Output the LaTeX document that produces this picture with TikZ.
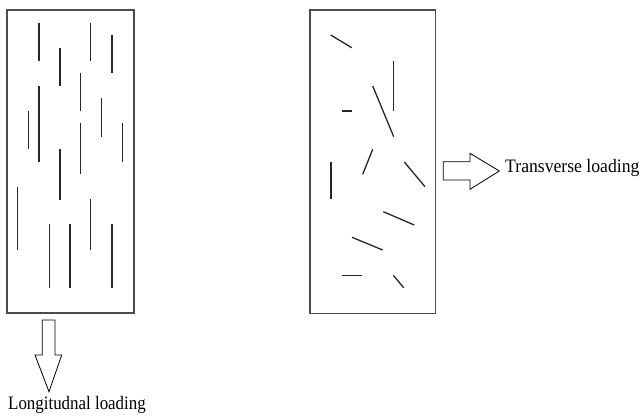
\documentclass[tikz,border=0pt]{standalone}
\usepackage{fontspec}
\setmainfont{Liberation Serif}
\begin{document}
\begin{tikzpicture}[x=1pt,y=-1pt,
  panel/.style={draw=black!70,line width=1.3pt},
  fiber/.style={draw=black!85,line width=1.3pt},
  loadarrow/.style={draw=black,line width=0.8pt,fill=white,line join=miter},
  lbl/.style={font=\fontsize{19}{22}\selectfont,inner sep=0pt,anchor=base west}]
\useasboundingbox (0,0) rectangle (642,415);
% left panel
\draw[panel] (7,10) rectangle (134,313);
\foreach \x/\a/\b in {39/22.7/60.7, 90.7/22.7/60.7, 112/35/73.3, 60/48.3/86,
  80.3/73.3/111, 39/85.7/162.3, 101.7/98.3/136.7, 28.3/111/149, 122.3/123.3/162.3,
  80.3/123.3/174.3, 60/149/200, 17.7/186.7/250, 90.7/199.3/250,
  49.3/224.3/287.7, 70/224.3/287.7, 112/224.3/287.7}
  \draw[fiber] (\x,\a) -- (\x,\b);
% right panel
\draw[panel] (310,10) rectangle (435.3,313.3);
\draw[fiber] (330.7,35) -- (351.7,47.7);
\draw[fiber] (393.3,60.7) -- (393.3,111);
\draw[fiber] (372.7,86) -- (393.7,136.7);
\draw[fiber] (341.7,111) -- (351.7,111);
\draw[fiber] (372.7,149.3) -- (362.7,174.3);
\draw[fiber] (331,162) -- (331,199.3);
\draw[fiber] (404.3,162) -- (425,186.7);
\draw[fiber] (383.3,211.7) -- (414.3,225);
\draw[fiber] (352,237.3) -- (382.7,250);
\draw[fiber] (341.7,275.3) -- (362,275.3);
\draw[fiber] (393.3,275.3) -- (403.7,287.7);
% longitudinal arrow
\draw[loadarrow] (42.3,320) -- (55,320) -- (55,355) -- (61.7,355) -- (49,391.7)
  -- (35,355) -- (42.3,355) -- cycle;
\node[lbl,xscale=0.89] (longl) at (8,409.5) {Longitudnal loading};
% transverse arrow
\draw[loadarrow] (443.3,161.7) -- (470,161.7) -- (470,153.3) -- (499.3,171)
  -- (470,189.3) -- (470,180) -- (443.3,180) -- cycle;
\node[lbl,xscale=0.93] (transl) at (505,172.7) {Transverse loading};
\end{tikzpicture}
\end{document}
